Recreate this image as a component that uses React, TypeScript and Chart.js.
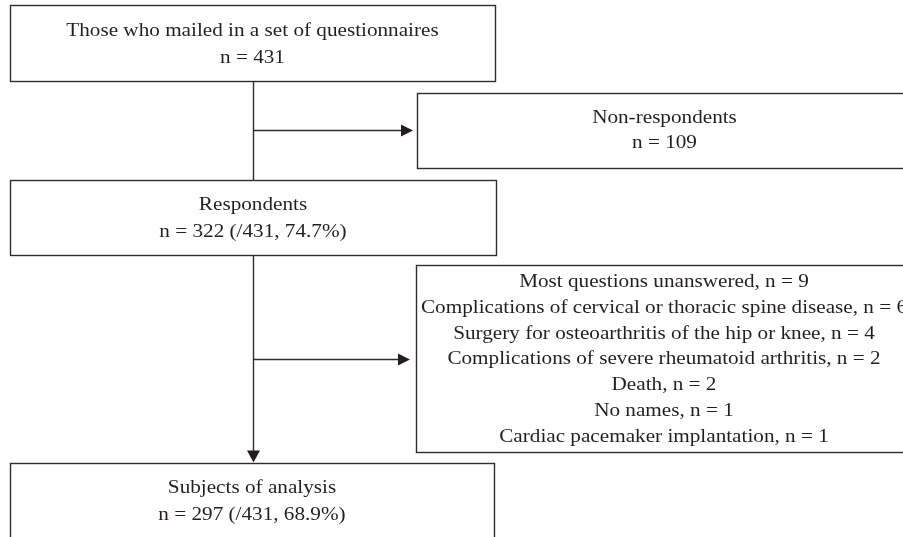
import React, { useEffect, useRef } from "react";
import { Chart, registerables } from "chart.js";

Chart.register(...registerables);

// ---- content (data) ----
const stageTitles = [
  "Those who mailed in a set of questionnaires",
  "Non-respondents",
  "Respondents",
  "",
  "Subjects of analysis",
];
const stageCounts = [431, 109, 322, null, 297];
const stageShares = ["", "", "(/431, 74.7%)", "", "(/431, 68.9%)"];
const exclusionReasons = [
  "Most questions unanswered",
  "Complications of cervical or thoracic spine disease",
  "Surgery for osteoarthritis of the hip or knee",
  "Complications of severe rheumatoid arthritis",
  "Death",
  "No names",
  "Cardiac pacemaker implantation",
];
const exclusionCounts = [9, 6, 4, 2, 2, 1, 1];

// ---- layout (in scale units, x: 0..903, y: 0..537 top-down) ----
const boxX0 = [10, 417, 10, 416, 10];
const boxX1 = [495, 912, 496, 912, 494];
const boxY0 = [5, 93, 180, 265, 463];
const boxY1 = [81, 168, 255, 452, 560];
const firstBaseline = [36, 123, 210, 287, 493];
const lineGap = [26.5, 25, 26.5, 25.8, 27];
const spineX = 253;
const branchY = [130, 359];
const branchTipX = [413, 410];
const FONT_PX = 19;
const STRETCH = 1.115;

function buildLines(i: number): string[] {
  if (i === 3) {
    return exclusionReasons.map((r, k) => `${r}, n = ${exclusionCounts[k]}`);
  }
  const second = `n = ${stageCounts[i]}${stageShares[i] ? " " + stageShares[i] : ""}`;
  return [stageTitles[i], second];
}

const INK = "#231f20";
const LINE = "#2e2e2e";

const flowPlugin = {
  id: "flow",
  afterDraw(chart: any) {
    const ctx = chart.ctx as CanvasRenderingContext2D;
    const xs = chart.scales.x;
    const ys = chart.scales.y;
    const px = (v: number) => xs.getPixelForValue(v);
    const py = (v: number) => ys.getPixelForValue(v);
    ctx.save();
    ctx.fillStyle = "#ffffff";
    ctx.fillRect(0, 0, chart.width, chart.height);

    ctx.strokeStyle = LINE;
    ctx.lineWidth = 1.4;
    // boxes
    for (let i = 0; i < boxX0.length; i++) {
      const x0 = Math.round(px(boxX0[i])) + 0.5;
      const x1 = Math.round(px(boxX1[i])) + 0.5;
      const y0 = Math.round(py(boxY0[i])) + 0.5;
      const y1 = Math.round(py(boxY1[i])) + 0.5;
      ctx.strokeRect(x0, y0, x1 - x0, y1 - y0);
    }
    // spine
    const sx = Math.round(px(spineX)) + 0.5;
    ctx.beginPath();
    ctx.moveTo(sx, py(boxY1[0]));
    ctx.lineTo(sx, py(boxY0[2]));
    ctx.moveTo(sx, py(boxY1[2]));
    ctx.lineTo(sx, py(boxY0[4]) - 10);
    ctx.stroke();
    // branches
    ctx.fillStyle = INK;
    for (let b = 0; b < branchY.length; b++) {
      const y = Math.round(py(branchY[b])) + 0.5;
      const tip = px(branchTipX[b]);
      ctx.beginPath();
      ctx.moveTo(sx, y);
      ctx.lineTo(tip - 10, y);
      ctx.stroke();
      ctx.beginPath();
      ctx.moveTo(tip, y);
      ctx.lineTo(tip - 12, y - 6);
      ctx.lineTo(tip - 12, y + 6);
      ctx.closePath();
      ctx.fill();
    }
    // down arrowhead
    const tipY = py(boxY0[4]) - 0.5;
    ctx.beginPath();
    ctx.moveTo(sx, tipY);
    ctx.lineTo(sx - 6.5, tipY - 12);
    ctx.lineTo(sx + 6.5, tipY - 12);
    ctx.closePath();
    ctx.fill();

    // text
    ctx.fillStyle = INK;
    ctx.font = `${FONT_PX}px "Liberation Serif", "Times New Roman", serif`;
    ctx.textAlign = "center";
    ctx.textBaseline = "alphabetic";
    for (let i = 0; i < boxX0.length; i++) {
      const lines = buildLines(i);
      const cx = px((boxX0[i] + boxX1[i]) / 2);
      lines.forEach((t, k) => {
        ctx.save();
        ctx.translate(cx, py(firstBaseline[i] + k * lineGap[i]));
        ctx.scale(STRETCH, 1);
        ctx.fillText(t, 0, 0);
        ctx.restore();
      });
    }
    ctx.restore();
  },
};

export default function App() {
  const ref = useRef<HTMLCanvasElement | null>(null);
  useEffect(() => {
    if (!ref.current) return;
    const chart = new Chart(ref.current, {
      type: "scatter",
      data: {
        datasets: [
          {
            data: boxX0.map((x, i) => ({ x: (x + boxX1[i]) / 2, y: (boxY0[i] + boxY1[i]) / 2 })),
            pointRadius: 0,
            showLine: false,
          },
        ],
      },
      options: {
        animation: false,
        responsive: true,
        maintainAspectRatio: false,
        layout: { padding: 0 },
        events: [],
        plugins: { legend: { display: false }, tooltip: { enabled: false } },
        scales: {
          x: { type: "linear", min: 0, max: 903, display: false },
          y: { type: "linear", min: 0, max: 537, reverse: true, display: false },
        },
      },
      plugins: [flowPlugin],
    });
    return () => chart.destroy();
  }, []);
  return (
    <div style={{ position: "absolute", left: 0, top: 0, width: 903, height: 537, background: "#fff" }}>
      <canvas ref={ref} />
    </div>
  );
}
